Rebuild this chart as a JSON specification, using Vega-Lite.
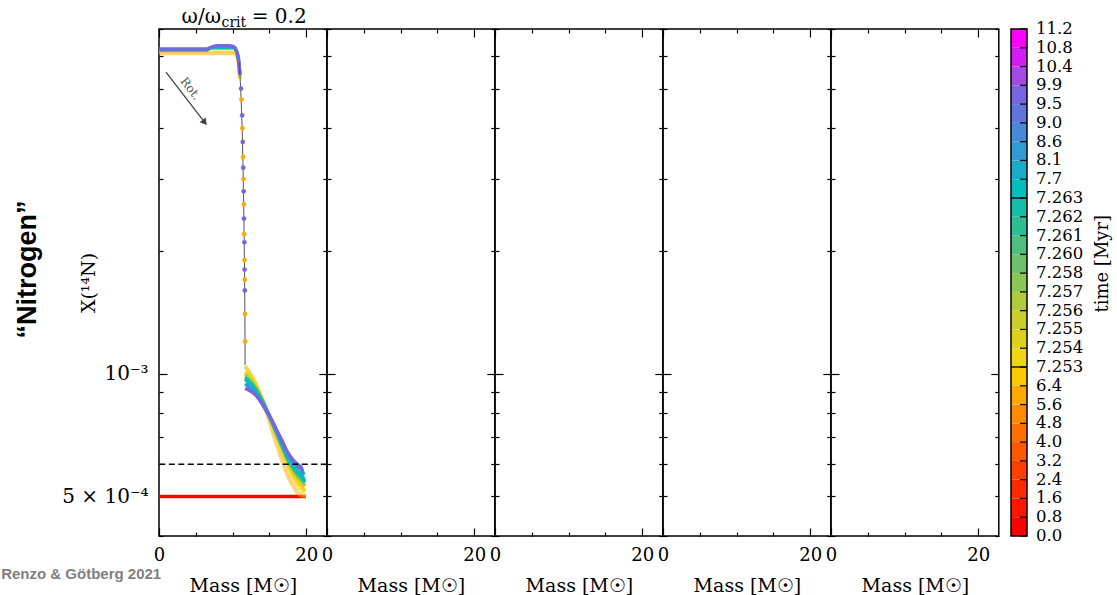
{
"$schema": "https://vega.github.io/schema/vega-lite/v6.json",
"background": "white",
"padding": {"left": 0, "top": 6, "right": 4, "bottom": 0},
"datasets": {
"profiles": [
{"t":0.0,"seg":"env","m":0,"x14":0.0005},{"t":0.0,"seg":"env","m":19.95,"x14":0.0005},
{"t":5.8,"seg":"core","m":0,"x14":0.0061},{"t":5.8,"seg":"core","m":5,"x14":0.0061},{"t":5.8,"seg":"core","m":10,"x14":0.0061},{"t":5.8,"seg":"core","m":10.5,"x14":0.00605},{"t":5.8,"seg":"core","m":10.8,"x14":0.0058},{"t":5.8,"seg":"core","m":11.0,"x14":0.0053},
{"t":5.8,"seg":"env","m":11.7,"x14":0.00104},{"t":5.8,"seg":"env","m":12.5,"x14":0.00099},{"t":5.8,"seg":"env","m":13.3,"x14":0.00093},{"t":5.8,"seg":"env","m":14.0,"x14":0.00086},{"t":5.8,"seg":"env","m":14.7,"x14":0.00079},{"t":5.8,"seg":"env","m":15.4,"x14":0.00072},{"t":5.8,"seg":"env","m":16.1,"x14":0.00066},{"t":5.8,"seg":"env","m":16.8,"x14":0.000605},{"t":5.8,"seg":"env","m":17.5,"x14":0.00056},{"t":5.8,"seg":"env","m":18.2,"x14":0.00053},{"t":5.8,"seg":"env","m":18.9,"x14":0.000508},{"t":5.8,"seg":"env","m":19.5,"x14":0.000501},{"t":5.8,"seg":"env","m":19.95,"x14":0.0005},
{"t":6.8,"seg":"core","m":0,"x14":0.00616},{"t":6.8,"seg":"core","m":5,"x14":0.00616},{"t":6.8,"seg":"core","m":10,"x14":0.00616},{"t":6.8,"seg":"core","m":10.5,"x14":0.0061},{"t":6.8,"seg":"core","m":10.8,"x14":0.0058},{"t":6.8,"seg":"core","m":11.0,"x14":0.0053},
{"t":6.8,"seg":"env","m":11.7,"x14":0.001045},{"t":6.8,"seg":"env","m":12.5,"x14":0.000995},{"t":6.8,"seg":"env","m":13.3,"x14":0.000935},{"t":6.8,"seg":"env","m":14.0,"x14":0.000875},{"t":6.8,"seg":"env","m":14.7,"x14":0.00081},{"t":6.8,"seg":"env","m":15.4,"x14":0.000745},{"t":6.8,"seg":"env","m":16.1,"x14":0.000685},{"t":6.8,"seg":"env","m":16.8,"x14":0.00063},{"t":6.8,"seg":"env","m":17.5,"x14":0.000585},{"t":6.8,"seg":"env","m":18.2,"x14":0.00055},{"t":6.8,"seg":"env","m":18.9,"x14":0.000525},{"t":6.8,"seg":"env","m":19.5,"x14":0.00051},{"t":6.8,"seg":"env","m":19.9,"x14":0.000502},
{"t":7.2535,"seg":"core","m":0,"x14":0.0062},{"t":7.2535,"seg":"core","m":6.5,"x14":0.0062},{"t":7.2535,"seg":"core","m":7,"x14":0.0063},{"t":7.2535,"seg":"core","m":9.5,"x14":0.0063},{"t":7.2535,"seg":"core","m":10.2,"x14":0.0063},{"t":7.2535,"seg":"core","m":10.5,"x14":0.0061},{"t":7.2535,"seg":"core","m":10.8,"x14":0.0058},{"t":7.2535,"seg":"core","m":11.0,"x14":0.0053},
{"t":7.2535,"seg":"env","m":11.7,"x14":0.00101},{"t":7.2535,"seg":"env","m":12.5,"x14":0.000975},{"t":7.2535,"seg":"env","m":13.3,"x14":0.000925},{"t":7.2535,"seg":"env","m":14.0,"x14":0.00087},{"t":7.2535,"seg":"env","m":14.7,"x14":0.00081},{"t":7.2535,"seg":"env","m":15.4,"x14":0.00075},{"t":7.2535,"seg":"env","m":16.1,"x14":0.000695},{"t":7.2535,"seg":"env","m":16.8,"x14":0.000645},{"t":7.2535,"seg":"env","m":17.5,"x14":0.0006},{"t":7.2535,"seg":"env","m":18.2,"x14":0.000565},{"t":7.2535,"seg":"env","m":18.9,"x14":0.00054},{"t":7.2535,"seg":"env","m":19.5,"x14":0.000525},{"t":7.2535,"seg":"env","m":19.85,"x14":0.000515},
{"t":7.2565,"seg":"env","m":11.7,"x14":0.000995},{"t":7.2565,"seg":"env","m":12.5,"x14":0.00096},{"t":7.2565,"seg":"env","m":13.3,"x14":0.000915},{"t":7.2565,"seg":"env","m":14.0,"x14":0.000865},{"t":7.2565,"seg":"env","m":14.7,"x14":0.00081},{"t":7.2565,"seg":"env","m":15.4,"x14":0.000755},{"t":7.2565,"seg":"env","m":16.1,"x14":0.000705},{"t":7.2565,"seg":"env","m":16.8,"x14":0.000655},{"t":7.2565,"seg":"env","m":17.5,"x14":0.00061},{"t":7.2565,"seg":"env","m":18.2,"x14":0.00058},{"t":7.2565,"seg":"env","m":18.9,"x14":0.000555},{"t":7.2565,"seg":"env","m":19.5,"x14":0.00054},{"t":7.2565,"seg":"env","m":19.85,"x14":0.00053},
{"t":7.2615,"seg":"env","m":11.7,"x14":0.00098},{"t":7.2615,"seg":"env","m":12.5,"x14":0.00095},{"t":7.2615,"seg":"env","m":13.3,"x14":0.000905},{"t":7.2615,"seg":"env","m":14.0,"x14":0.00086},{"t":7.2615,"seg":"env","m":14.7,"x14":0.00081},{"t":7.2615,"seg":"env","m":15.4,"x14":0.000758},{"t":7.2615,"seg":"env","m":16.1,"x14":0.000708},{"t":7.2615,"seg":"env","m":16.8,"x14":0.00066},{"t":7.2615,"seg":"env","m":17.5,"x14":0.000618},{"t":7.2615,"seg":"env","m":18.2,"x14":0.000588},{"t":7.2615,"seg":"env","m":18.9,"x14":0.000565},{"t":7.2615,"seg":"env","m":19.5,"x14":0.00055},{"t":7.2615,"seg":"env","m":19.8,"x14":0.00054},
{"t":7.5,"seg":"core","m":0,"x14":0.00622},{"t":7.5,"seg":"core","m":6.5,"x14":0.00622},{"t":7.5,"seg":"core","m":7,"x14":0.0063},{"t":7.5,"seg":"core","m":9.5,"x14":0.0063},{"t":7.5,"seg":"core","m":10.2,"x14":0.0063},{"t":7.5,"seg":"core","m":10.5,"x14":0.0062},{"t":7.5,"seg":"core","m":10.8,"x14":0.0059},{"t":7.5,"seg":"core","m":11.0,"x14":0.0054},
{"t":7.5,"seg":"env","m":11.7,"x14":0.00097},{"t":7.5,"seg":"env","m":12.5,"x14":0.00094},{"t":7.5,"seg":"env","m":13.3,"x14":0.0009},{"t":7.5,"seg":"env","m":14.0,"x14":0.000855},{"t":7.5,"seg":"env","m":14.7,"x14":0.00081},{"t":7.5,"seg":"env","m":15.4,"x14":0.00076},{"t":7.5,"seg":"env","m":16.1,"x14":0.00071},{"t":7.5,"seg":"env","m":16.8,"x14":0.000665},{"t":7.5,"seg":"env","m":17.5,"x14":0.000625},{"t":7.5,"seg":"env","m":18.2,"x14":0.000595},{"t":7.5,"seg":"env","m":18.9,"x14":0.000575},{"t":7.5,"seg":"env","m":19.5,"x14":0.00056},{"t":7.5,"seg":"env","m":19.8,"x14":0.000545},
{"t":8.3,"seg":"env","m":11.7,"x14":0.000945},{"t":8.3,"seg":"env","m":12.5,"x14":0.00092},{"t":8.3,"seg":"env","m":13.3,"x14":0.000885},{"t":8.3,"seg":"env","m":14.0,"x14":0.000845},{"t":8.3,"seg":"env","m":14.7,"x14":0.000805},{"t":8.3,"seg":"env","m":15.4,"x14":0.00076},{"t":8.3,"seg":"env","m":16.1,"x14":0.000715},{"t":8.3,"seg":"env","m":16.8,"x14":0.000675},{"t":8.3,"seg":"env","m":17.5,"x14":0.000635},{"t":8.3,"seg":"env","m":18.2,"x14":0.00061},{"t":8.3,"seg":"env","m":18.9,"x14":0.00059},{"t":8.3,"seg":"env","m":19.4,"x14":0.00058},{"t":8.3,"seg":"env","m":19.7,"x14":0.000565},
{"t":9.7,"seg":"core","m":0,"x14":0.00625},{"t":9.7,"seg":"core","m":6.5,"x14":0.00625},{"t":9.7,"seg":"core","m":7.2,"x14":0.00633},{"t":9.7,"seg":"core","m":8,"x14":0.00637},{"t":9.7,"seg":"core","m":9.5,"x14":0.00637},{"t":9.7,"seg":"core","m":10.2,"x14":0.00633},{"t":9.7,"seg":"core","m":10.5,"x14":0.0062},{"t":9.7,"seg":"core","m":10.8,"x14":0.0059},{"t":9.7,"seg":"core","m":11.0,"x14":0.0054},
{"t":9.7,"seg":"env","m":11.7,"x14":0.00092},{"t":9.7,"seg":"env","m":12.5,"x14":0.000905},{"t":9.7,"seg":"env","m":13.3,"x14":0.00088},{"t":9.7,"seg":"env","m":14.0,"x14":0.000845},{"t":9.7,"seg":"env","m":14.7,"x14":0.000805},{"t":9.7,"seg":"env","m":15.4,"x14":0.000765},{"t":9.7,"seg":"env","m":16.1,"x14":0.00072},{"t":9.7,"seg":"env","m":16.8,"x14":0.00068},{"t":9.7,"seg":"env","m":17.5,"x14":0.00064},{"t":9.7,"seg":"env","m":18.2,"x14":0.000615},{"t":9.7,"seg":"env","m":18.9,"x14":0.000598},{"t":9.7,"seg":"env","m":19.3,"x14":0.00059},{"t":9.7,"seg":"env","m":19.5,"x14":0.000575}
],
"grey": [
{"m":10.9,"x14":0.0058},{"m":11.1,"x14":0.005},{"m":11.3,"x14":0.004},{"m":11.45,"x14":0.003},{"m":11.55,"x14":0.0023},{"m":11.62,"x14":0.0018},{"m":11.67,"x14":0.0014},{"m":11.7,"x14":0.00105}
],
"dots": [
{"t":6.0,"m":11.2,"x14":0.0047},{"t":6.0,"m":11.33,"x14":0.004},{"t":6.0,"m":11.42,"x14":0.0034},{"t":6.0,"m":11.48,"x14":0.003},{"t":6.0,"m":11.53,"x14":0.0026},{"t":6.0,"m":11.58,"x14":0.0022},{"t":6.0,"m":11.62,"x14":0.0019},{"t":6.0,"m":11.65,"x14":0.0017},{"t":6.0,"m":11.68,"x14":0.0014},{"t":6.0,"m":11.7,"x14":0.0012},
{"t":9.7,"m":11.15,"x14":0.005},{"t":9.7,"m":11.3,"x14":0.0043},{"t":9.7,"m":11.38,"x14":0.0037},{"t":9.7,"m":11.45,"x14":0.0032},{"t":9.7,"m":11.5,"x14":0.0028},{"t":9.7,"m":11.55,"x14":0.0024},{"t":9.7,"m":11.6,"x14":0.0021},{"t":9.7,"m":11.63,"x14":0.0018},{"t":9.7,"m":11.66,"x14":0.0016}
],
"cbar": [
{"lo":0,"hi":1,"t":0.0},{"lo":1,"hi":2,"t":0.8},{"lo":2,"hi":3,"t":1.6},{"lo":3,"hi":4,"t":2.4},{"lo":4,"hi":5,"t":3.2},{"lo":5,"hi":6,"t":4.0},{"lo":6,"hi":7,"t":4.8},{"lo":7,"hi":8,"t":5.6},{"lo":8,"hi":9,"t":6.4},{"lo":9,"hi":10,"t":7.253},{"lo":10,"hi":11,"t":7.254},{"lo":11,"hi":12,"t":7.255},{"lo":12,"hi":13,"t":7.256},{"lo":13,"hi":14,"t":7.257},{"lo":14,"hi":15,"t":7.258},{"lo":15,"hi":16,"t":7.260},{"lo":16,"hi":17,"t":7.261},{"lo":17,"hi":18,"t":7.262},{"lo":18,"hi":19,"t":7.263},{"lo":19,"hi":20,"t":7.7},{"lo":20,"hi":21,"t":8.1},{"lo":21,"hi":22,"t":8.6},{"lo":22,"hi":23,"t":9.0},{"lo":23,"hi":24,"t":9.5},{"lo":24,"hi":25,"t":9.9},{"lo":25,"hi":26,"t":10.4},{"lo":26,"hi":27,"t":10.8}
],
"cbticks": [
{"i":0,"lab":"0.0"},{"i":1,"lab":"0.8"},{"i":2,"lab":"1.6"},{"i":3,"lab":"2.4"},{"i":4,"lab":"3.2"},{"i":5,"lab":"4.0"},{"i":6,"lab":"4.8"},{"i":7,"lab":"5.6"},{"i":8,"lab":"6.4"},{"i":9,"lab":"7.253"},{"i":10,"lab":"7.254"},{"i":11,"lab":"7.255"},{"i":12,"lab":"7.256"},{"i":13,"lab":"7.257"},{"i":14,"lab":"7.258"},{"i":15,"lab":"7.260"},{"i":16,"lab":"7.261"},{"i":17,"lab":"7.262"},{"i":18,"lab":"7.263"},{"i":19,"lab":"7.7"},{"i":20,"lab":"8.1"},{"i":21,"lab":"8.6"},{"i":22,"lab":"9.0"},{"i":23,"lab":"9.5"},{"i":24,"lab":"9.9"},{"i":25,"lab":"10.4"},{"i":26,"lab":"10.8"},{"i":27,"lab":"11.2"}
]
},
"spacing": 0,
"bounds": "flush",
"hconcat": [
{
"width": 167.8, "height": 507,
"layer": [
{"data": {"name": "profiles"},
 "mark": {"type": "line", "strokeWidth": 3.5, "interpolate": "monotone"},
 "encoding": {
  "x": {"field": "m", "type": "quantitative", "scale": {"domain": [0, 22.8], "nice": false, "zero": false},
        "axis": {"orient": "bottom", "values": [0,5,10,15,20], "labelExpr": "datum.value == 0 || datum.value == 20 ? datum.label : ''", "tickSize": {"condition": {"test": "datum.value == 0 || datum.value == 20", "value": -8}, "value": -4}, "labelPadding": 18, "labelFlush": false, "labelOverlap": false, "title": "Mass [M☉]", "titlePadding": 8}},
  "y": {"field": "x14", "type": "quantitative", "scale": {"type": "log", "domain": [0.0004, 0.007], "nice": false},
        "axis": {"orient": "left", "values": [0.0004,0.0005,0.0006,0.0007,0.0008,0.0009,0.001,0.002,0.003,0.004,0.005,0.006,0.007], "labelExpr": "datum.value == 0.001 ? '10⁻³' : (datum.value == 0.0005 ? '5 × 10⁻⁴' : '')", "labelFontSize": 20, "tickSize": {"condition": {"test": "datum.value == 0.001", "value": -8}, "value": -4}, "labelPadding": {"condition": {"test": "datum.value == 0.001", "value": 19}, "value": 15}, "labelOverlap": false, "title": "X(¹⁴N)", "titleX": -71, "titleBaseline": "middle"}},
  "color": {"field": "t", "type": "quantitative", "scale": {"type": "threshold", "domain": [0.8,1.6,2.4,3.2,4.0,4.8,5.6,6.4,7.253,7.254,7.255,7.256,7.257,7.258,7.260,7.261,7.262,7.263,7.7,8.1,8.6,9.0,9.5,9.9,10.4,10.8], "range": ["#ff0000","#ff1400","#ff2a00","#ff4000","#ff5800","#ff7000","#ff8c00","#ffa800","#ffc800","#eed612","#dcd21c","#c8ce2a","#b0ca3c","#8cc656","#6cc268","#4cc07c","#2ebe94","#16beaa","#00bebe","#18acca","#309ad2","#4888d8","#6076dc","#7864e0","#a448e6","#d21ef2","#ff00ff"]}, "legend": null},
  "detail": {"field": "seg"},
  "opacity": {"condition": {"test": "datum.t > 0 && datum.t < 7", "value": 0.5}, "value": 1}
 }},
{"data": {"values": [{}]},
 "mark": {"type": "point", "opacity": 0},
 "encoding": {
  "x": {"datum": 1, "type": "quantitative", "scale": {"domain": [0, 22.8], "nice": false, "zero": false}, "axis": {"orient": "top", "values": [0,5,10,15,20], "labels": false, "tickSize": {"condition": {"test": "datum.value == 0 || datum.value == 20", "value": -8}, "value": -4}, "title": null}},
  "y": {"datum": 0.001, "type": "quantitative", "scale": {"type": "log", "domain": [0.0004, 0.007], "nice": false}, "axis": {"orient": "right", "values": [0.0004,0.0005,0.0006,0.0007,0.0008,0.0009,0.001,0.002,0.003,0.004,0.005,0.006,0.007], "labels": false, "tickSize": {"condition": {"test": "datum.value == 0.001", "value": -8}, "value": -4}, "title": null}}
 }},
{"data": {"name": "grey"},
 "mark": {"type": "line", "color": "#555555", "strokeWidth": 1},
 "encoding": {
  "x": {"field": "m", "type": "quantitative", "scale": {"domain": [0, 22.8], "nice": false, "zero": false}, "axis": null},
  "y": {"field": "x14", "type": "quantitative", "scale": {"type": "log", "domain": [0.0004, 0.007], "nice": false}, "axis": null}
 }},
{"data": {"name": "dots"},
 "mark": {"type": "point", "filled": true, "size": 22, "opacity": 1},
 "encoding": {
  "x": {"field": "m", "type": "quantitative", "scale": {"domain": [0, 22.8], "nice": false, "zero": false}, "axis": null},
  "y": {"field": "x14", "type": "quantitative", "scale": {"type": "log", "domain": [0.0004, 0.007], "nice": false}, "axis": null},
  "color": {"field": "t", "type": "quantitative", "scale": {"type": "threshold", "domain": [0.8,1.6,2.4,3.2,4.0,4.8,5.6,6.4,7.253,7.254,7.255,7.256,7.257,7.258,7.260,7.261,7.262,7.263,7.7,8.1,8.6,9.0,9.5,9.9,10.4,10.8], "range": ["#ff0000","#ff1400","#ff2a00","#ff4000","#ff5800","#ff7000","#ff8c00","#ffa800","#ffc800","#eed612","#dcd21c","#c8ce2a","#b0ca3c","#8cc656","#6cc268","#4cc07c","#2ebe94","#16beaa","#00bebe","#18acca","#309ad2","#4888d8","#6076dc","#7864e0","#a448e6","#d21ef2","#ff00ff"]}, "legend": null}
 }},
{"data": {"values": [{}]},
 "mark": {"type": "rule", "color": "black", "strokeWidth": 1.5, "strokeDash": [6, 3.5]},
 "encoding": {
  "y": {"datum": 0.0006, "type": "quantitative", "scale": {"type": "log", "domain": [0.0004, 0.007], "nice": false}, "axis": null}
 }},
{"data": {"values": [{}]},
 "mark": {"type": "rule", "color": "#444444", "strokeWidth": 1.3},
 "encoding": {
  "x": {"datum": 0.95, "type": "quantitative", "scale": {"domain": [0, 22.8], "nice": false, "zero": false}, "axis": null},
  "y": {"datum": 0.00549, "type": "quantitative", "scale": {"type": "log", "domain": [0.0004, 0.007], "nice": false}, "axis": null},
  "x2": {"datum": 6.21},
  "y2": {"datum": 0.00413}
 }},
{"data": {"values": [{}]},
 "mark": {"type": "point", "shape": "triangle-up", "filled": true, "size": 60, "angle": 142.5, "color": "#444444", "opacity": 1},
 "encoding": {
  "x": {"datum": 6.21, "type": "quantitative", "scale": {"domain": [0, 22.8], "nice": false, "zero": false}, "axis": null},
  "y": {"datum": 0.00413, "type": "quantitative", "scale": {"type": "log", "domain": [0.0004, 0.007], "nice": false}, "axis": null}
 }},
{"data": {"values": [{}]},
 "mark": {"type": "text", "text": "Rot.", "font": "DejaVu Serif", "fontSize": 12, "color": "#555555", "angle": 52, "align": "center", "baseline": "middle"},
 "encoding": {
  "x": {"datum": 4.28, "type": "quantitative", "scale": {"domain": [0, 22.8], "nice": false, "zero": false}, "axis": null},
  "y": {"datum": 0.005, "type": "quantitative", "scale": {"type": "log", "domain": [0.0004, 0.007], "nice": false}, "axis": null}
 }},
{"data": {"values": [{}]},
 "mark": {"type": "text", "text": "ω/ω", "font": "DejaVu Serif", "fontSize": 20, "color": "black", "align": "right", "baseline": "alphabetic"},
 "encoding": {
  "x": {"datum": 8.42, "type": "quantitative", "scale": {"domain": [0, 22.8], "nice": false, "zero": false}, "axis": null},
  "y": {"datum": 0.00724, "type": "quantitative", "scale": {"type": "log", "domain": [0.0004, 0.007], "nice": false}, "axis": null}
 }},
{"data": {"values": [{}]},
 "mark": {"type": "text", "text": "crit", "font": "DejaVu Serif", "fontSize": 14, "color": "black", "align": "left", "baseline": "alphabetic"},
 "encoding": {
  "x": {"datum": 8.5, "type": "quantitative", "scale": {"domain": [0, 22.8], "nice": false, "zero": false}, "axis": null},
  "y": {"datum": 0.00708, "type": "quantitative", "scale": {"type": "log", "domain": [0.0004, 0.007], "nice": false}, "axis": null}
 }},
{"data": {"values": [{}]},
 "mark": {"type": "text", "text": "= 0.2", "font": "DejaVu Serif", "fontSize": 20, "color": "black", "align": "left", "baseline": "alphabetic"},
 "encoding": {
  "x": {"datum": 12.6, "type": "quantitative", "scale": {"domain": [0, 22.8], "nice": false, "zero": false}, "axis": null},
  "y": {"datum": 0.00724, "type": "quantitative", "scale": {"type": "log", "domain": [0.0004, 0.007], "nice": false}, "axis": null}
 }},
{"data": {"values": [{}]},
 "mark": {"type": "text", "text": "“Nitrogen”", "font": "Liberation Sans", "fontWeight": "bold", "fontSize": 27, "color": "black", "angle": 270, "align": "center", "baseline": "middle"},
 "encoding": {
  "x": {"datum": -17.8, "type": "quantitative", "scale": {"domain": [0, 22.8], "nice": false, "zero": false}, "axis": null},
  "y": {"datum": 0.0018, "type": "quantitative", "scale": {"type": "log", "domain": [0.0004, 0.007], "nice": false}, "axis": null}
 }},
{"data": {"values": [{}]},
 "mark": {"type": "text", "text": "Renzo & Götberg 2021", "font": "Liberation Sans", "fontWeight": "bold", "fontSize": 15, "color": "#808080", "align": "left", "baseline": "middle"},
 "encoding": {
  "x": {"datum": -21.45, "type": "quantitative", "scale": {"domain": [0, 22.8], "nice": false, "zero": false}, "axis": null},
  "y": {"datum": 0.000323, "type": "quantitative", "scale": {"type": "log", "domain": [0.0004, 0.007], "nice": false}, "axis": null}
 }}
],
"resolve": {"axis": {"x": "independent", "y": "independent"}}
},
{
"width": 167.8, "height": 507,
"data": {"values": [{}]},
"layer": [
{"mark": {"type": "point", "opacity": 0},
 "encoding": {
  "x": {"datum": 1, "type": "quantitative", "scale": {"domain": [0, 22.8], "nice": false, "zero": false}, "axis": {"orient": "bottom", "values": [0,5,10,15,20], "labelExpr": "datum.value == 0 || datum.value == 20 ? datum.label : ''", "tickSize": {"condition": {"test": "datum.value == 0 || datum.value == 20", "value": -8}, "value": -4}, "labelPadding": 18, "labelFlush": false, "labelOverlap": false, "title": "Mass [M☉]", "titlePadding": 8}},
  "y": {"datum": 0.001, "type": "quantitative", "scale": {"type": "log", "domain": [0.0004, 0.007], "nice": false}, "axis": {"orient": "left", "values": [0.0004,0.0005,0.0006,0.0007,0.0008,0.0009,0.001,0.002,0.003,0.004,0.005,0.006,0.007], "labels": false, "tickSize": {"condition": {"test": "datum.value == 0.001", "value": -8}, "value": -4}, "title": null}}
 }},
{"mark": {"type": "point", "opacity": 0},
 "encoding": {
  "x": {"datum": 1, "type": "quantitative", "scale": {"domain": [0, 22.8], "nice": false, "zero": false}, "axis": {"orient": "top", "values": [0,5,10,15,20], "labels": false, "tickSize": {"condition": {"test": "datum.value == 0 || datum.value == 20", "value": -8}, "value": -4}, "title": null}},
  "y": {"datum": 0.001, "type": "quantitative", "scale": {"type": "log", "domain": [0.0004, 0.007], "nice": false}, "axis": {"orient": "right", "values": [0.0004,0.0005,0.0006,0.0007,0.0008,0.0009,0.001,0.002,0.003,0.004,0.005,0.006,0.007], "labels": false, "tickSize": {"condition": {"test": "datum.value == 0.001", "value": -8}, "value": -4}, "title": null}}
 }}
],
"resolve": {"axis": {"x": "independent", "y": "independent"}}
},
{
"width": 167.8, "height": 507,
"data": {"values": [{}]},
"layer": [
{"mark": {"type": "point", "opacity": 0},
 "encoding": {
  "x": {"datum": 1, "type": "quantitative", "scale": {"domain": [0, 22.8], "nice": false, "zero": false}, "axis": {"orient": "bottom", "values": [0,5,10,15,20], "labelExpr": "datum.value == 0 || datum.value == 20 ? datum.label : ''", "tickSize": {"condition": {"test": "datum.value == 0 || datum.value == 20", "value": -8}, "value": -4}, "labelPadding": 18, "labelFlush": false, "labelOverlap": false, "title": "Mass [M☉]", "titlePadding": 8}},
  "y": {"datum": 0.001, "type": "quantitative", "scale": {"type": "log", "domain": [0.0004, 0.007], "nice": false}, "axis": {"orient": "left", "values": [0.0004,0.0005,0.0006,0.0007,0.0008,0.0009,0.001,0.002,0.003,0.004,0.005,0.006,0.007], "labels": false, "tickSize": {"condition": {"test": "datum.value == 0.001", "value": -8}, "value": -4}, "title": null}}
 }},
{"mark": {"type": "point", "opacity": 0},
 "encoding": {
  "x": {"datum": 1, "type": "quantitative", "scale": {"domain": [0, 22.8], "nice": false, "zero": false}, "axis": {"orient": "top", "values": [0,5,10,15,20], "labels": false, "tickSize": {"condition": {"test": "datum.value == 0 || datum.value == 20", "value": -8}, "value": -4}, "title": null}},
  "y": {"datum": 0.001, "type": "quantitative", "scale": {"type": "log", "domain": [0.0004, 0.007], "nice": false}, "axis": {"orient": "right", "values": [0.0004,0.0005,0.0006,0.0007,0.0008,0.0009,0.001,0.002,0.003,0.004,0.005,0.006,0.007], "labels": false, "tickSize": {"condition": {"test": "datum.value == 0.001", "value": -8}, "value": -4}, "title": null}}
 }}
],
"resolve": {"axis": {"x": "independent", "y": "independent"}}
},
{
"width": 167.8, "height": 507,
"data": {"values": [{}]},
"layer": [
{"mark": {"type": "point", "opacity": 0},
 "encoding": {
  "x": {"datum": 1, "type": "quantitative", "scale": {"domain": [0, 22.8], "nice": false, "zero": false}, "axis": {"orient": "bottom", "values": [0,5,10,15,20], "labelExpr": "datum.value == 0 || datum.value == 20 ? datum.label : ''", "tickSize": {"condition": {"test": "datum.value == 0 || datum.value == 20", "value": -8}, "value": -4}, "labelPadding": 18, "labelFlush": false, "labelOverlap": false, "title": "Mass [M☉]", "titlePadding": 8}},
  "y": {"datum": 0.001, "type": "quantitative", "scale": {"type": "log", "domain": [0.0004, 0.007], "nice": false}, "axis": {"orient": "left", "values": [0.0004,0.0005,0.0006,0.0007,0.0008,0.0009,0.001,0.002,0.003,0.004,0.005,0.006,0.007], "labels": false, "tickSize": {"condition": {"test": "datum.value == 0.001", "value": -8}, "value": -4}, "title": null}}
 }},
{"mark": {"type": "point", "opacity": 0},
 "encoding": {
  "x": {"datum": 1, "type": "quantitative", "scale": {"domain": [0, 22.8], "nice": false, "zero": false}, "axis": {"orient": "top", "values": [0,5,10,15,20], "labels": false, "tickSize": {"condition": {"test": "datum.value == 0 || datum.value == 20", "value": -8}, "value": -4}, "title": null}},
  "y": {"datum": 0.001, "type": "quantitative", "scale": {"type": "log", "domain": [0.0004, 0.007], "nice": false}, "axis": {"orient": "right", "values": [0.0004,0.0005,0.0006,0.0007,0.0008,0.0009,0.001,0.002,0.003,0.004,0.005,0.006,0.007], "labels": false, "tickSize": {"condition": {"test": "datum.value == 0.001", "value": -8}, "value": -4}, "title": null}}
 }}
],
"resolve": {"axis": {"x": "independent", "y": "independent"}}
},
{
"width": 167.8, "height": 507,
"data": {"values": [{}]},
"layer": [
{"mark": {"type": "point", "opacity": 0},
 "encoding": {
  "x": {"datum": 1, "type": "quantitative", "scale": {"domain": [0, 22.8], "nice": false, "zero": false}, "axis": {"orient": "bottom", "values": [0,5,10,15,20], "labelExpr": "datum.value == 0 || datum.value == 20 ? datum.label : ''", "tickSize": {"condition": {"test": "datum.value == 0 || datum.value == 20", "value": -8}, "value": -4}, "labelPadding": 18, "labelFlush": false, "labelOverlap": false, "title": "Mass [M☉]", "titlePadding": 8}},
  "y": {"datum": 0.001, "type": "quantitative", "scale": {"type": "log", "domain": [0.0004, 0.007], "nice": false}, "axis": {"orient": "left", "values": [0.0004,0.0005,0.0006,0.0007,0.0008,0.0009,0.001,0.002,0.003,0.004,0.005,0.006,0.007], "labels": false, "tickSize": {"condition": {"test": "datum.value == 0.001", "value": -8}, "value": -4}, "title": null}}
 }},
{"mark": {"type": "point", "opacity": 0},
 "encoding": {
  "x": {"datum": 1, "type": "quantitative", "scale": {"domain": [0, 22.8], "nice": false, "zero": false}, "axis": {"orient": "top", "values": [0,5,10,15,20], "labels": false, "tickSize": {"condition": {"test": "datum.value == 0 || datum.value == 20", "value": -8}, "value": -4}, "title": null}},
  "y": {"datum": 0.001, "type": "quantitative", "scale": {"type": "log", "domain": [0.0004, 0.007], "nice": false}, "axis": {"orient": "right", "values": [0.0004,0.0005,0.0006,0.0007,0.0008,0.0009,0.001,0.002,0.003,0.004,0.005,0.006,0.007], "labels": false, "tickSize": {"condition": {"test": "datum.value == 0.001", "value": -8}, "value": -4}, "title": null}}
 }}
],
"resolve": {"axis": {"x": "independent", "y": "independent"}}
},
{
"width": 110, "height": 507,
"view": {"stroke": null},
"layer": [
{"data": {"name": "cbar"},
 "mark": {"type": "rect"},
 "encoding": {
  "x": {"datum": 12, "type": "quantitative", "scale": {"domain": [0, 110], "nice": false, "zero": false}, "axis": null},
  "x2": {"datum": 28},
  "y": {"field": "lo", "type": "quantitative", "scale": {"domain": [0, 27], "nice": false, "zero": false}, "axis": null},
  "y2": {"field": "hi"},
  "color": {"field": "t", "type": "quantitative", "scale": {"type": "threshold", "domain": [0.8,1.6,2.4,3.2,4.0,4.8,5.6,6.4,7.253,7.254,7.255,7.256,7.257,7.258,7.260,7.261,7.262,7.263,7.7,8.1,8.6,9.0,9.5,9.9,10.4,10.8], "range": ["#ff0000","#ff1400","#ff2a00","#ff4000","#ff5800","#ff7000","#ff8c00","#ffa800","#ffc800","#eed612","#dcd21c","#c8ce2a","#b0ca3c","#8cc656","#6cc268","#4cc07c","#2ebe94","#16beaa","#00bebe","#18acca","#309ad2","#4888d8","#6076dc","#7864e0","#a448e6","#d21ef2","#ff00ff"]}, "legend": null}
 }},
{"data": {"values": [{}]},
 "mark": {"type": "rule", "color": "black", "strokeWidth": 1.3},
 "encoding": {
  "x": {"datum": 12, "type": "quantitative", "scale": {"domain": [0, 110], "nice": false, "zero": false}, "axis": null},
  "x2": {"datum": 28},
  "y": {"datum": 9, "type": "quantitative", "scale": {"domain": [0, 27], "nice": false, "zero": false}, "axis": null}}},
{"data": {"values": [{}]},
 "mark": {"type": "rule", "color": "black", "strokeWidth": 1.3},
 "encoding": {
  "x": {"datum": 12, "type": "quantitative", "scale": {"domain": [0, 110], "nice": false, "zero": false}, "axis": null},
  "x2": {"datum": 28},
  "y": {"datum": 18, "type": "quantitative", "scale": {"domain": [0, 27], "nice": false, "zero": false}, "axis": null}}},
{"data": {"name": "cbticks"},
 "mark": {"type": "tick", "orient": "horizontal", "size": 7, "thickness": 1.2, "color": "black", "opacity": 1},
 "encoding": {
  "x": {"datum": 24.5, "type": "quantitative", "scale": {"domain": [0, 110], "nice": false, "zero": false}, "axis": null},
  "y": {"field": "i", "type": "quantitative", "scale": {"domain": [0, 27], "nice": false, "zero": false}, "axis": null}}},
{"data": {"values": [{}]},
 "mark": {"type": "rect", "filled": false, "stroke": "black", "strokeWidth": 1.5, "fill": null},
 "encoding": {
  "x": {"datum": 12, "type": "quantitative", "scale": {"domain": [0, 110], "nice": false, "zero": false}, "axis": null},
  "x2": {"datum": 28},
  "y": {"datum": 0, "type": "quantitative", "scale": {"domain": [0, 27], "nice": false, "zero": false}, "axis": null},
  "y2": {"datum": 27}}},
{"data": {"name": "cbticks"},
 "mark": {"type": "text", "align": "left", "baseline": "middle", "font": "DejaVu Serif", "fontSize": 16.5, "color": "black"},
 "encoding": {
  "x": {"datum": 37, "type": "quantitative", "scale": {"domain": [0, 110], "nice": false, "zero": false}, "axis": null},
  "y": {"field": "i", "type": "quantitative", "scale": {"domain": [0, 27], "nice": false, "zero": false}, "axis": null},
  "text": {"field": "lab", "type": "nominal"}}},
{"data": {"values": [{}]},
 "mark": {"type": "text", "text": "time [Myr]", "angle": 270, "align": "center", "baseline": "middle", "font": "DejaVu Serif", "fontSize": 18, "color": "black"},
 "encoding": {
  "x": {"datum": 104, "type": "quantitative", "scale": {"domain": [0, 110], "nice": false, "zero": false}, "axis": null},
  "y": {"datum": 14.5, "type": "quantitative", "scale": {"domain": [0, 27], "nice": false, "zero": false}, "axis": null}}}
]
}
],
"config": {
 "font": "DejaVu Serif",
 "view": {"stroke": "#000000", "strokeWidth": 1.5},
 "axis": {"domain": false, "grid": false, "tickColor": "#000000", "tickWidth": 1.2, "labelColor": "#000000", "titleColor": "#000000", "labelFont": "DejaVu Serif", "titleFont": "DejaVu Serif", "labelFontSize": 18, "titleFontSize": 19, "titleFontWeight": "normal"}
}
}
